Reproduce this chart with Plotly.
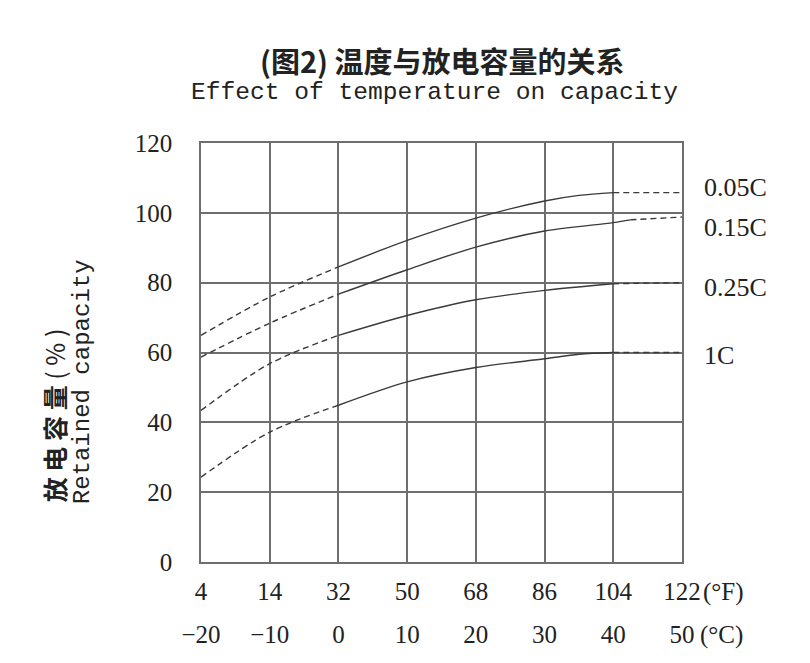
import plotly.graph_objects as go

# ---------------- data ----------------
f_labels = ["4", "14", "32", "50", "68", "86", "104", "122"]
c_labels = ["\u221220", "\u221210", "0", "10", "20", "30", "40", "50"]
y_ticks = [0, 20, 40, 60, 80, 100, 120]

series_names = ["0.05C", "0.15C", "0.25C", "1C"]

x_005 = [0, 1, 2, 3, 4, 5, 5.5, 6, 7]
y_005 = [64.9, 75.9, 84.5, 92.1, 98.5, 103.4, 105.0, 105.8, 105.8]

x_015 = [0, 1, 2, 3, 4, 5, 6, 6.25, 7]
y_015 = [58.7, 68.4, 76.7, 83.7, 90.2, 94.8, 97.2, 98.0, 98.8]

x_025 = [0, 1, 2, 3, 4, 5, 6, 7]
y_025 = [43.4, 56.8, 64.9, 70.6, 75.1, 77.8, 79.7, 80.0]

x_1c = [0, 1, 2, 3, 4, 5, 5.5, 6, 7]
y_1c = [24.3, 37.2, 44.9, 51.6, 55.7, 58.2, 59.5, 60.0, 60.0]

# solid portion (index range on the x axis); outside it the curve is dashed
solid_start = [2, 2, 2, 2]
solid_end = [6, 6.25, 6, 6]

# ---------------- styling ----------------
LINE_COLOR = "#3a3a3a"
GRID_COLOR = "#6e6e6e"
TEXT = "#222"
SERIF = "Liberation Serif, Times New Roman, serif"
MONO = "Liberation Mono, Courier New, monospace"
CJK = "Noto Sans CJK SC, sans-serif"
LABEL_Y = [107.3, 95.8, 78.7, 59.2]

fig = go.Figure()

all_x = [x_005, x_015, x_025, x_1c]
all_y = [y_005, y_015, y_025, y_1c]

for i, (xs, ys) in enumerate(zip(all_x, all_y)):
    s0, s1 = solid_start[i], solid_end[i]
    seg_left = [(x, y) for x, y in zip(xs, ys) if x <= s0]
    seg_mid = [(x, y) for x, y in zip(xs, ys) if s0 <= x <= s1]
    seg_right = [(x, y) for x, y in zip(xs, ys) if x >= s1]
    for seg, dash in ((seg_left, "6px,4px"), (seg_mid, "solid"), (seg_right, "6px,4px")):
        if len(seg) < 2:
            continue
        fig.add_trace(go.Scatter(
            x=[p[0] for p in seg], y=[p[1] for p in seg],
            mode="lines",
            line=dict(color=LINE_COLOR, width=1.4, dash=dash, shape="spline", smoothing=0.9),
            showlegend=False, hoverinfo="skip",
        ))

# dummy trace for the secondary (Celsius) axis
fig.add_trace(go.Scatter(x=[0, 7], y=[None, None], xaxis="x2", showlegend=False, hoverinfo="skip"))

fig.update_layout(
    width=802, height=655,
    margin=dict(l=193, r=128, t=135, b=101),
    paper_bgcolor="white", plot_bgcolor="white",
    xaxis=dict(
        range=[0, 7], tickmode="array", tickvals=list(range(8)), ticktext=f_labels,
        showgrid=True, gridcolor=GRID_COLOR, gridwidth=1.6,
        showline=True, linecolor=GRID_COLOR, linewidth=1.6, mirror=True,
        ticks="", zeroline=False,
        tickfont=dict(family=SERIF, size=25, color=TEXT),
        ticklabelstandoff=6,
    ),
    xaxis2=dict(
        range=[0, 7], overlaying="x", side="bottom", tickmode="array",
        tickvals=list(range(8)), ticktext=c_labels,
        showgrid=False, showline=False, ticks="", zeroline=False,
        tickfont=dict(family=SERIF, size=25, color=TEXT),
        ticklabelstandoff=55,
    ),
    yaxis=dict(
        range=[0, 120], tickmode="array", tickvals=y_ticks,
        showgrid=True, gridcolor=GRID_COLOR, gridwidth=1.6,
        showline=True, linecolor=GRID_COLOR, linewidth=1.6, mirror=True,
        ticks="", zeroline=False,
        tickfont=dict(family=SERIF, size=25, color=TEXT),
        ticklabelstandoff=22,
    ),
)

ann = []
# title lines
ann.append(dict(text="<b>(\u56fe2) \u6e29\u5ea6\u4e0e\u653e\u7535\u5bb9\u91cf\u7684\u5173\u7cfb</b>",
                xref="paper", yref="paper", x=0.502, y=1, yshift=83, xanchor="center", yanchor="middle",
                showarrow=False, font=dict(family=CJK, size=29, color=TEXT)))
ann.append(dict(text="Effect of temperature on capacity",
                xref="paper", yref="paper", x=0.485, y=1, yshift=51, xanchor="center", yanchor="middle",
                showarrow=False, font=dict(family=MONO, size=24.6, color=TEXT)))
# y-axis title
ann.append(dict(text="<b>\u653e\u00a0\u7535\u00a0\u5bb9\u00a0\u91cf</b>\u00a0(\u00a0%\u00a0)", xref="paper", yref="paper",
                x=0, y=0.35, xshift=-147, xanchor="center", yanchor="middle", textangle=-90,
                showarrow=False, font=dict(family=CJK, size=25, color=TEXT)))
ann.append(dict(text="Retained capacity", xref="paper", yref="paper", x=0, y=0.429,
                xshift=-119, xanchor="center", yanchor="middle", textangle=-90, showarrow=False,
                font=dict(family=MONO, size=24, color=TEXT)))
# unit suffixes
ann.append(dict(text="(\u00b0F)", xref="x", yref="paper", x=7, y=0, xshift=19, yshift=-30,
                xanchor="left", yanchor="middle", showarrow=False,
                font=dict(family=SERIF, size=25, color=TEXT)))
ann.append(dict(text="(\u00b0C)", xref="x", yref="paper", x=7, y=0, xshift=16, yshift=-73,
                xanchor="left", yanchor="middle", showarrow=False,
                font=dict(family=SERIF, size=25, color=TEXT)))
# series labels
for name, ly in zip(series_names, LABEL_Y):
    ann.append(dict(text=name, xref="x", yref="y", x=7, y=ly, xshift=20,
                    xanchor="left", yanchor="middle", showarrow=False,
                    font=dict(family=SERIF, size=26, color=TEXT)))

fig.update_layout(annotations=ann)
fig.write_html("out.html")
